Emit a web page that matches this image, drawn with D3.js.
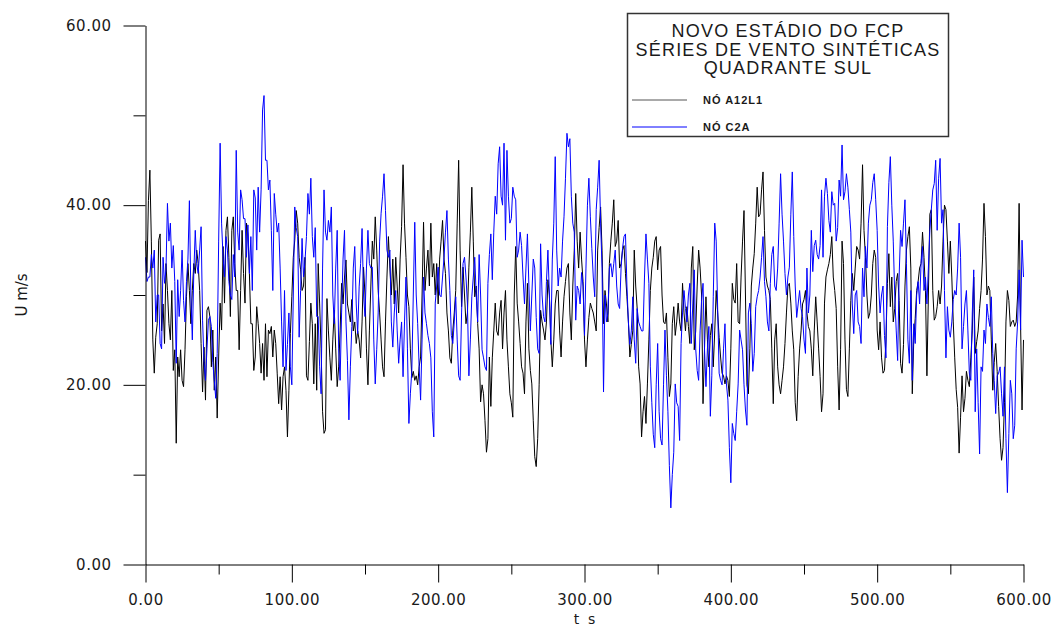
<!DOCTYPE html>
<html>
<head>
<meta charset="utf-8">
<script src="https://cdn.jsdelivr.net/npm/d3@7"></script>
<style>
  html, body { margin: 0; padding: 0; background: #ffffff; }
  svg { display: block; }
</style>
</head>
<body>
<svg id="chart" width="1054" height="628"></svg>
<script>
// ---------------- DATA ----------------
const titleLines = ["NOVO ESTÁDIO DO FCP", "SÉRIES DE VENTO SINTÉTICAS", "QUADRANTE SUL"];
const seriesNames = ["NÓ A12L1", "NÓ C2A"];
const xLabel = "t  s";
const yLabel = "U m/s";
const xMajorTicks = [0, 100, 200, 300, 400, 500, 600];
const xMinorTicks = [50, 150, 250, 350, 450, 550];
const yMajorTicks = [0, 20, 40, 60];
const yMinorTicks = [10, 30, 50];
const timeStep = 1; // seconds between samples

const nodeA12L1 = [
36,32.5,40.5,43.9,36,25,21.3,25.3,26.8,36.1,
36.8,26,29,24.6,33.5,30.5,26.8,25,30.5,21.6,
23.9,13.5,23.1,20.9,23.9,20.5,19.8,23.9,29.8,33.5,
30.5,26.8,30.5,33.5,32.4,35,33.5,30.5,24.6,19.2,
24.2,18.3,28.3,28.7,27.6,22,26.1,19.4,23.1,16.3,
23.1,29.1,26.1,35.4,29.1,37.2,38.7,34.2,27.6,37.2,
38.7,33.5,30.5,30.5,23.9,30.5,37.2,32.4,29.1,38,
36.8,32.4,26.8,26.8,21.6,23.1,28.7,26.8,24.6,21.3,
24.6,20.5,26.8,20.9,26.1,25.7,26.5,23.1,26.1,24.6,
21.3,17.9,20.9,17.2,20.9,22,19.4,14.2,19.4,25.7,
29.8,34.2,36.1,39.4,38,34.2,32.8,30.5,31,34.2,
21,20.5,24.8,29.1,26.8,20.1,26.8,19.4,33.5,29,
24,17,14.6,15,29.6,26,23,20.5,25,28.3,
24,19.8,22,26,31.3,29,32,33.9,29,28,
27,29.5,26,27,24.6,26,25,23,27,33.1,
30,24,20,26,31,36,34,38.7,35,30.5,
28,25,22,20.9,27,32,36.5,33,30,34,
29,34.2,31,28,34,37.6,44.5,38,34.2,30,
28.7,24,20.8,21.5,20.5,21,20,22,23.1,30,
38.1,30.5,33,35,31,38,32,33.5,30,33.5,
29,34,36,38.3,34,32.4,28,26,23,22.4,
26,28,30.5,38,45,35,28.7,33.1,30,26.8,
28,33.1,37,42,36,29.8,31,26.8,24,18.1,
20,19,16,12.5,14,23.1,17.6,23,26,29.1,
26,25.5,28,29.4,24,28,30.5,25,22,19,
18,16.4,30,35.4,29.1,27,24.6,22,21.3,19,
27,31.3,24,21.6,20.1,16,12,10.9,14,20,
28.3,27,26.1,25,27,31.7,30,25,22,25,
29,30.5,30.5,26,23.1,27,29.8,31.5,33,33.5,
28,25,31,35,41.3,36,33,37,34,31.5,
25,22,25,27.5,29.1,28.5,28,27,26,35,
37.5,39.8,35,26.8,30.5,29,27,33.5,36,38,
40.6,35.4,36,38.3,33,33.5,35,35.5,32.4,29.8,
27,23.1,24.5,26,35,31,28.5,22,20.1,14.2,
17,18.7,15.7,20.1,25,30.5,33,34.2,36,36.5,
32.8,35,35.4,30,27,26.8,28,23,18.7,20.1,
26.8,28.7,25.5,27,29.1,27,26,31.3,28,26,
28.7,26.5,24.6,33,35.4,23.9,26,31,35,33,
30,17.9,24,29.8,25,22,25.5,26.8,22,26,
30.5,28,25.3,23.1,21.3,21,20.1,21,20.5,18.7,
24,31.3,29.5,29.1,33.5,27,26.8,32,36,39.4,
30,20,19,24,31,33,34.6,38,42,38.7,
39,41.7,43.7,37.2,32,31,30.5,29.5,24,17.9,
25,26.8,22,20,19,20.5,22,24.6,28,31,
31.3,29.1,26,23.9,18,16,20.9,24,26,29,
29.5,30.5,28,26.5,26,24,21,26,29.8,27,
24,20.9,17,19,29.1,32,32.8,33.5,34.5,36.5,
32,30.5,28.5,22,17.2,23.9,36,33.5,25,19.5,
18.7,24,29.4,32.4,30.5,33,35.4,35,34,38,
44.5,37.2,34.2,30,27.4,28,30,33.5,35,34.2,
26.1,23.9,27,23,21.3,21.6,25,31.3,34.6,28.7,
32,27,28.5,31.5,32.4,29.4,22.4,21.3,24.5,31,
35,36.5,37.6,33,19,25,27.4,30.5,31.5,33,
33.5,37,34.2,30.5,21,30,39,39.5,30.5,27.2,
27.6,28.7,30.5,29,31,36,40,39.5,36,32.4,
36,32,27,23,19.5,17.5,12.4,16.4,21,17,
18.5,21.5,20.5,19.8,23,26,32,23.5,24.8,26,
28.5,30.5,34,40.2,36.5,30,31,30.5,25,19.4,
22.5,24.6,21.5,17.6,14,11.6,13,18,27,30.5,
29.4,26.5,27,27.2,26.5,27,30,40.2,26.8,17.2,
25
];

const nodeC2A = [
34.2,31.5,32,32,34.5,33,35,27,30,30,
24.6,24,34.2,31.3,32.8,40.2,36,38,33,35.5,
31.5,22.4,31.7,27.6,30.5,35,29.4,27,31.5,34,
40.5,30,25,32.4,37.2,33.5,32.4,35,37.6,27.2,
22.5,20.5,24,27.2,27.6,26.5,22.5,20.5,18.5,23.5,
36,46.9,38,34.2,32,36.5,35,31.5,30,29.5,
34.5,32,46.1,37,35,41.7,40.6,38.5,38.5,34.2,
37.8,32.4,36.5,30.5,41.7,40.8,35,42,37,41.7,
50.6,52.2,45,45,41.7,42.8,37.2,30.5,41.3,39,
37,38,33,27,22,30.5,21.6,24.5,28,22,
20,30,39.8,37.5,36.5,25.3,30.5,36.3,32,33.8,
36.5,41.3,39,43,36.5,34.2,37.5,27.6,27.6,22,
19,33,41.7,37,36.1,38.3,37,39.8,30,26.8,
33,37.2,24,20.5,28,34,37.2,27,22.7,16.1,
22,26.5,33,35.4,29,25.7,30.9,33.5,37.4,30,
27.6,33,37.2,33.5,33,33.1,25,20.1,23.9,28,
36,39.1,41,43.5,39.4,35,34.2,35,27,24.2,
28,30.5,26,22.4,25,27,20.9,27,32,24,
15.7,19,21.6,30,38.1,30,26.8,22,18.3,25,
32,28,26.8,25.5,24.6,23,17,14.2,29.1,31,
33.1,30,29.8,32,34.2,37,39.4,34,30.5,25.5,
24.6,27,29.8,25,21,20.5,28,33.5,34.2,32,
29,21,25,29.8,32,34.2,30,27,34.5,30,
23.9,23,22,21.6,31.3,34.5,36.8,31.7,37,41,
39,44.6,46.5,41,40,46.9,36.1,46.1,41,38,
38.5,42,41,40.6,34.2,35,37,35.5,32,29,
33,36.8,31,26,30,34,33,27.5,24,23.5,
35.7,30,27.6,27,31.5,35,30,24.5,34,38,
45.4,35,31,33,32,36,38.7,43,48,46.5,
47.4,41,38,37,27.2,31,30.5,29,32.5,31,
25.5,33,40,43,38.7,35.2,32,29.8,39.5,42,
45,38,33,19.2,30,27,28,33,33.5,32,
33.5,35,31,29,28.5,33,35.2,36.5,36.8,31,
27,24.5,26,29.8,25,22.4,28.5,27,26.5,26,
26,32,36.8,34,31.3,22,18,14.5,13,20,
24.6,17,14,13.3,20,26.1,21,17,11,6.3,
10,12.5,20.1,18,17.6,13.8,24.6,28,30.5,28.5,
27,30,31.3,24.6,29,32.8,24,21.6,20.5,26,
29.4,31.3,24,19.8,24,26.5,16.5,21,29.8,38,
36,28.5,21.3,20.5,20,24,26.8,20.1,18.3,13,
9.1,15.7,14.6,13.8,17,20.1,26.1,25,23.9,20,
17.2,15.5,28,29.1,26.8,21.5,23.5,28.7,29.8,30.5,
32,34.2,36.5,31.5,29.8,27,26,31.3,34.5,35.4,
31,30.5,33,38,43.5,39,36,32.4,30,32,
33.1,39,43.7,36.5,31,27.5,29,30.5,28.5,27.6,
25,23.5,33,28,30,37.2,32.6,35.5,36.1,34.5,
34,35.5,41.7,34.2,41,43,41.3,38.3,37,41.5,
40,40.2,36,37.5,42.8,41,46.7,40.6,41.5,43.5,
42,39.5,37,29,25.7,30,30.5,27,26.5,24.6,
33,29.8,35.4,33,38,40,40.6,42.5,43.5,40.6,
37.2,31,28,30,31,25.5,23,37.6,42.5,45.4,
40,36,30,26.1,22.7,32,37.2,35.4,38,40.6,
33.5,25,22.4,30.5,20.5,26.8,24.6,30,31.5,29,
33.5,35.4,30.5,32,29,33,37.2,39.5,41.7,42.4,
45,37.2,43,45.2,38,39.5,30.5,23,28.7,26.1,
25.3,27,29.5,30.5,30,33,38,34.2,24,26.5,
29,30.5,26,21.3,20.5,28,32.8,17,24,18,
12.3,22,21.5,26.1,24.6,29,27.5,26.5,29.8,23.5,
20.5,16.8,21,21.3,22,19,16.5,22,14,8,
14.6,20.5,19,14,15.5,24,27,32.8,26.1,36.1,
32
];

const seriesColors = ["#000000", "#0000ff"];

// ---------------- CHART ----------------
const svg = d3.select("#chart");
const fontFamily = "'DejaVu Sans', Verdana, sans-serif";

const x = d3.scaleLinear().domain([0, 600]).range([145.5, 1023.5]);
const y = d3.scaleLinear().domain([0, 60]).range([564.5, 25.5]);

// Lines
const line = d3.line()
  .x((d, i) => x(i * timeStep))
  .y(d => y(d));

const seriesData = [nodeA12L1, nodeC2A];
svg.append("g").attr("class", "series")
  .selectAll("path")
  .data(seriesData)
  .join("path")
  .attr("d", d => line(d))
  .attr("fill", "none")
  .attr("stroke", (d, i) => seriesColors[i])
  .attr("stroke-width", 1)
  .attr("stroke-linejoin", "round");

// Y axis (major)
const yAxisMajor = d3.axisLeft(y)
  .tickValues(yMajorTicks)
  .tickSize(22)
  .tickSizeOuter(0)
  .tickPadding(12)
  .tickFormat(d3.format(".2f"));
const gy = svg.append("g").attr("transform", "translate(145.5,0)").call(yAxisMajor);
gy.selectAll("text")
  .attr("font-family", fontFamily)
  .attr("font-size", 15)
  .attr("letter-spacing", "0.5px")
  .attr("fill", "#1a1a1a");
gy.selectAll("line, path").attr("stroke", "#000");

// Y axis (minor)
const yAxisMinor = d3.axisLeft(y)
  .tickValues(yMinorTicks)
  .tickSize(12)
  .tickSizeOuter(0)
  .tickFormat("");
const gym = svg.append("g").attr("transform", "translate(145.5,0)").call(yAxisMinor);
gym.select("path").remove();
gym.selectAll("line").attr("stroke", "#000");

// X axis (major)
const xAxisMajor = d3.axisBottom(x)
  .tickValues(xMajorTicks)
  .tickSize(18)
  .tickSizeOuter(0)
  .tickPadding(12)
  .tickFormat(d3.format(".2f"));
const gx = svg.append("g").attr("transform", "translate(0,564.5)").call(xAxisMajor);
gx.selectAll("text")
  .attr("font-family", fontFamily)
  .attr("font-size", 15)
  .attr("letter-spacing", "0.5px")
  .attr("fill", "#1a1a1a");
gx.selectAll("line, path").attr("stroke", "#000");

// X axis (minor)
const xAxisMinor = d3.axisBottom(x)
  .tickValues(xMinorTicks)
  .tickSize(10)
  .tickSizeOuter(0)
  .tickFormat("");
const gxm = svg.append("g").attr("transform", "translate(0,564.5)").call(xAxisMinor);
gxm.select("path").remove();
gxm.selectAll("line").attr("stroke", "#000");

// Axis titles
svg.append("text")
  .attr("x", (x(0) + x(600)) / 2)
  .attr("y", 624)
  .attr("text-anchor", "middle")
  .attr("font-family", fontFamily)
  .attr("font-size", 14)
  .attr("fill", "#1a1a1a")
  .attr("xml:space", "preserve")
  .text(xLabel);

svg.append("text")
  .attr("transform", `translate(27,${(y(0) + y(60)) / 2}) rotate(-90)`)
  .attr("text-anchor", "middle")
  .attr("font-family", fontFamily)
  .attr("font-size", 15)
  .attr("fill", "#1a1a1a")
  .text(yLabel);

// Legend box
const legend = svg.append("g").attr("class", "legend");
legend.append("rect")
  .attr("x", 627.5).attr("y", 13.5)
  .attr("width", 321).attr("height", 123)
  .attr("fill", "#ffffff")
  .attr("stroke", "#333")
  .attr("stroke-width", 1.5);

const titleFont = "'Liberation Sans', Arial, sans-serif";
legend.selectAll("text.title")
  .data(titleLines)
  .join("text")
  .attr("class", "title")
  .attr("x", 788)
  .attr("y", (d, i) => 37 + i * 18.7)
  .attr("text-anchor", "middle")
  .attr("font-family", titleFont)
  .attr("font-size", 18)
  .attr("letter-spacing", "1.2px")
  .attr("fill", "#1a1a1a")
  .text(d => d);

const legendRows = legend.selectAll("g.row")
  .data(seriesNames)
  .join("g")
  .attr("class", "row")
  .attr("transform", (d, i) => `translate(0,${i * 27})`);
legendRows.append("line")
  .attr("x1", 632).attr("x2", 687)
  .attr("y1", 100).attr("y2", 100)
  .attr("stroke", (d, i) => seriesColors[i] === "#000000" ? "#555" : seriesColors[i])
  .attr("stroke-width", 1);
legendRows.append("text")
  .attr("x", 703)
  .attr("y", 104)
  .attr("font-family", titleFont)
  .attr("font-size", 11)
  .attr("font-weight", "bold")
  .attr("letter-spacing", "1px")
  .attr("fill", "#1a1a1a")
  .text(d => d);
</script>
</body>
</html>
